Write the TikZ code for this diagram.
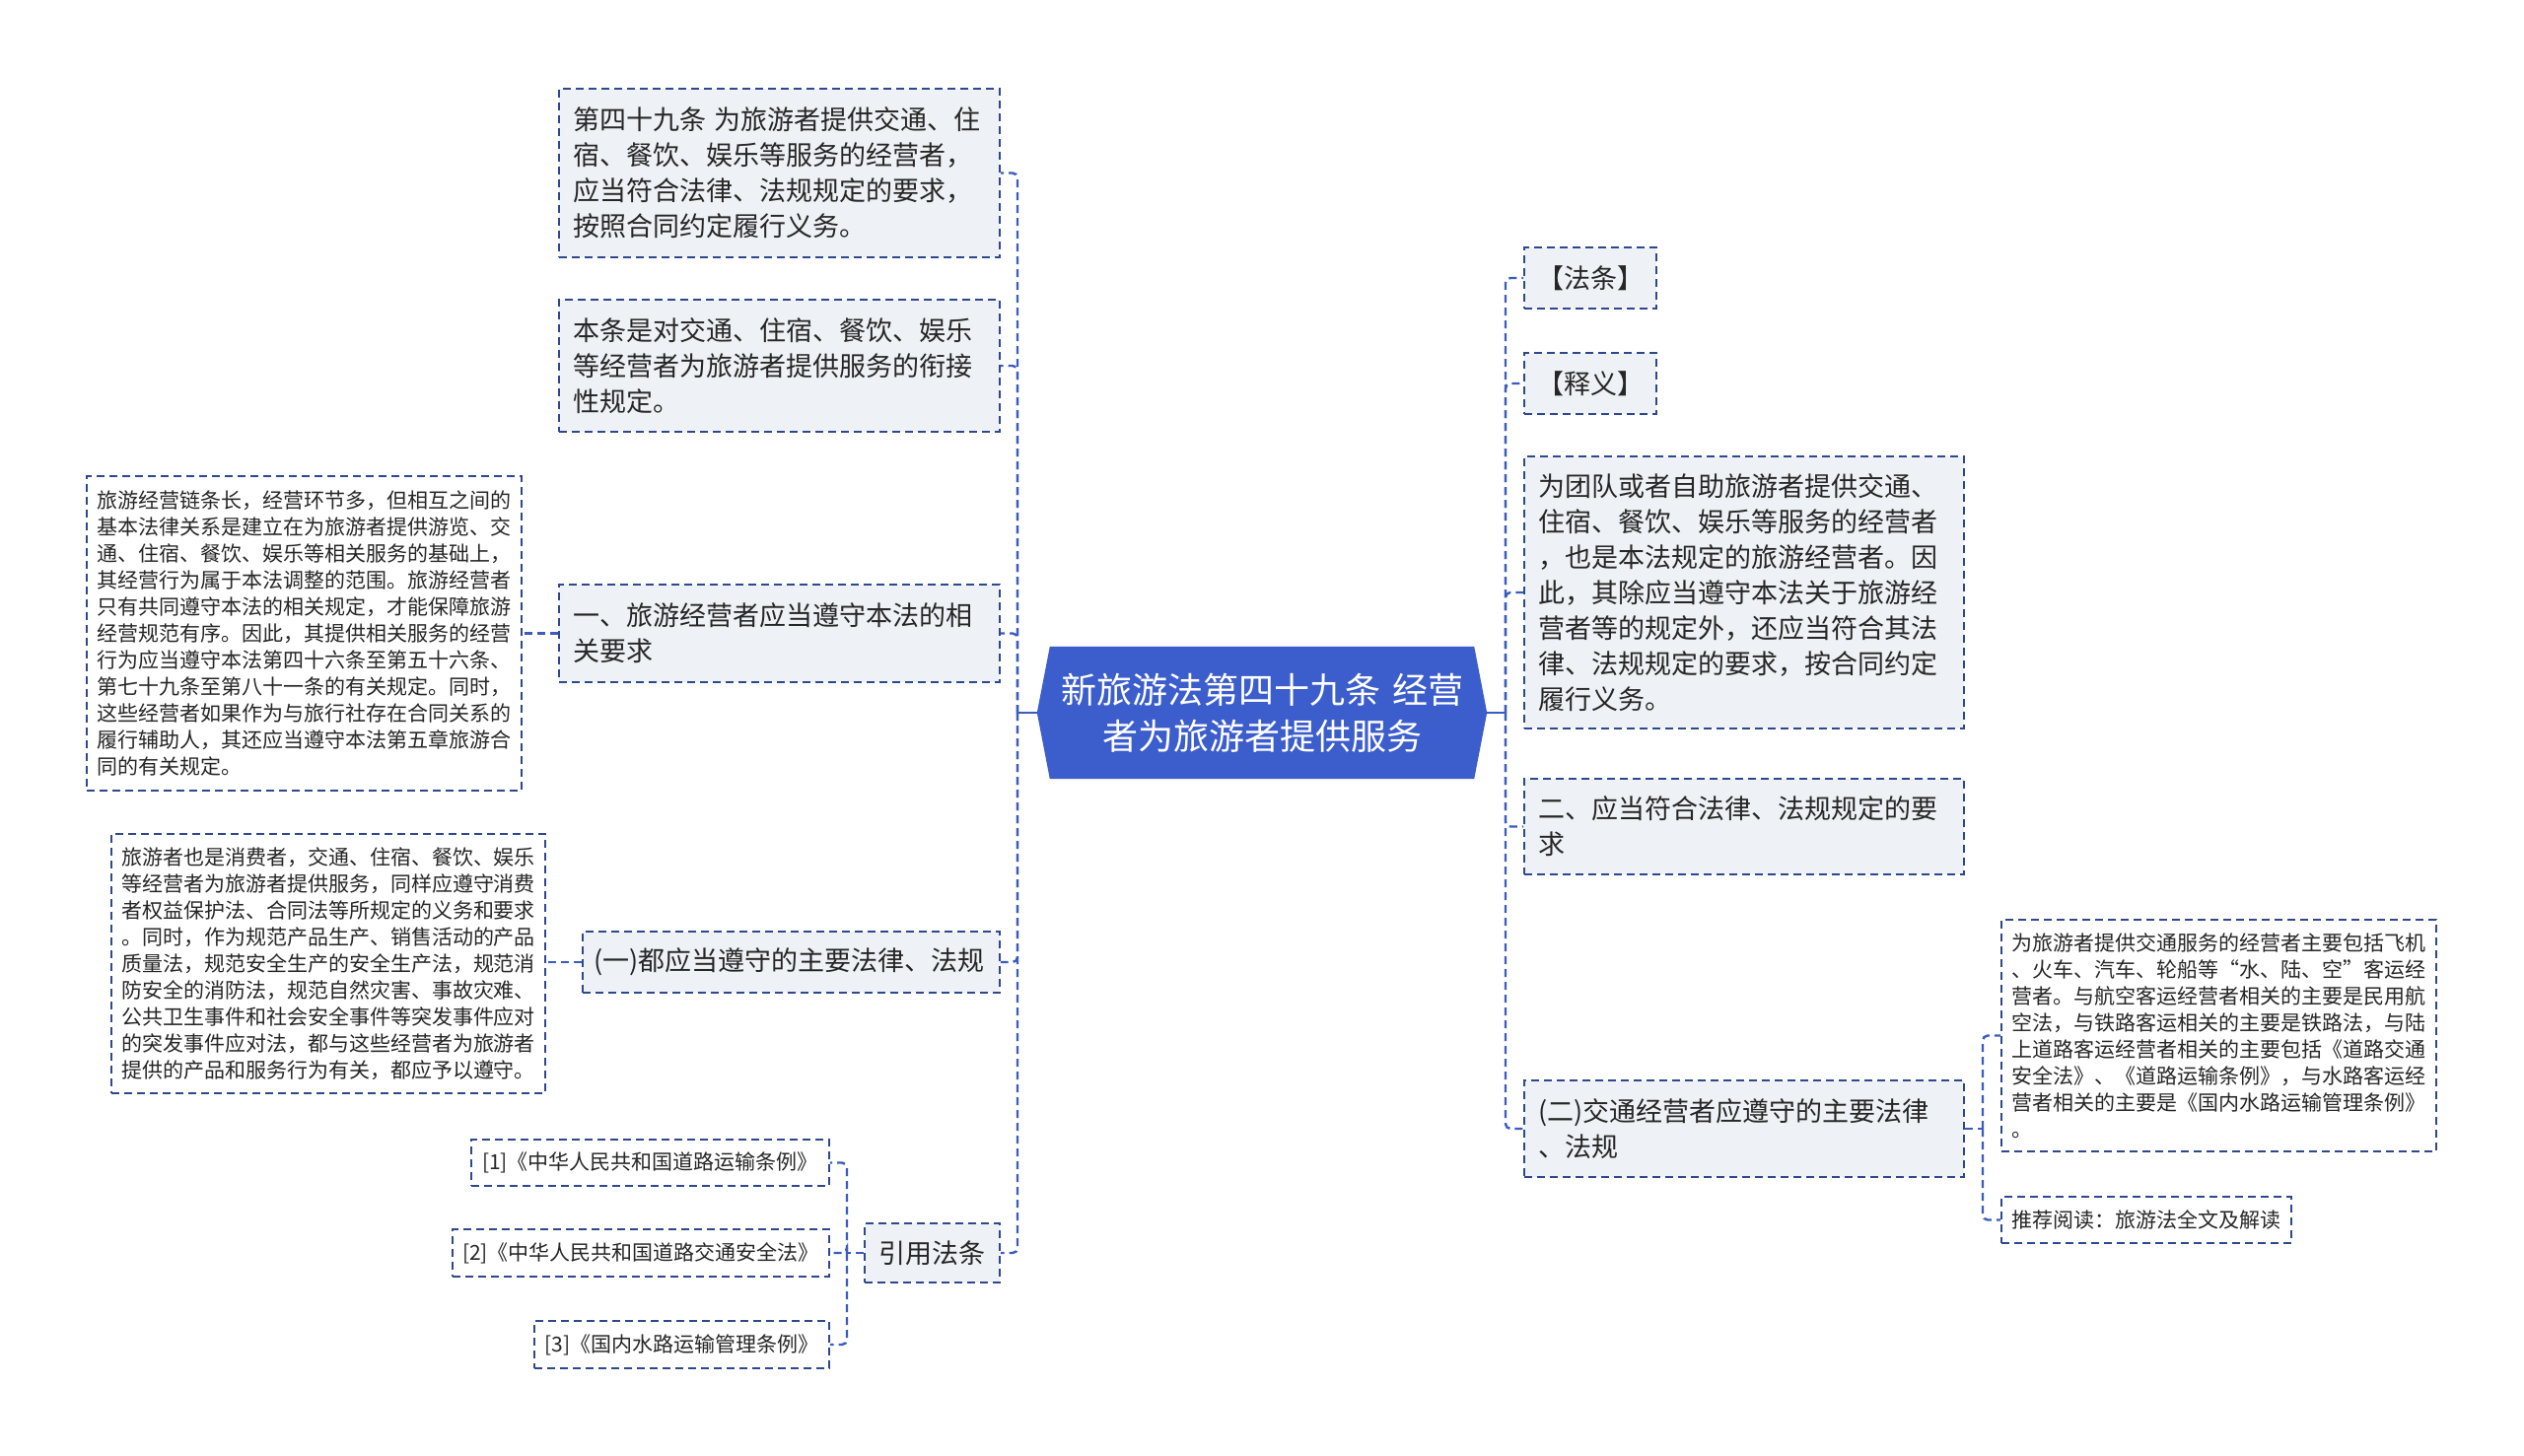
\documentclass[tikz,border=0pt]{standalone}
\usepackage{fontspec}
\setmainfont{Noto Sans CJK SC}
\usetikzlibrary{backgrounds}
\definecolor{bordc}{RGB}{45,72,140}
\definecolor{connc}{RGB}{58,92,190}
\definecolor{boxfill}{RGB}{238,241,245}
\definecolor{centfill}{RGB}{60,93,204}
\definecolor{txtc}{RGB}{38,38,38}
\newcommand{\fa}{\fontsize{27pt}{36pt}\selectfont}
\newcommand{\fb}{\fontsize{21pt}{27pt}\selectfont}
\newcommand{\fc}{\fontsize{36pt}{47pt}\selectfont}
\begin{document}
\begin{tikzpicture}[x=1pt,y=-1pt,
 dashbox/.style={draw=bordc, line width=1.6pt, dash pattern=on 8pt off 5pt, text=txtc, inner ysep=0pt, align=left},
 lvone/.style={dashbox, fill=boxfill, font=\fa},
 lvtwo/.style={dashbox, fill=white, font=\fb},
 conn/.style={draw=connc, line width=2.4pt, dash pattern=on 8pt off 5pt, rounded corners=5pt},
 stub/.style={draw=connc, line width=2.4pt}]

\begin{scope}[on background layer]
\fill[white] (0,0) rectangle (2560,1477);
\end{scope}
\useasboundingbox (0,0) rectangle (2560,1477);

% center
\node[font=\fc, text=white, align=center, text width=430pt, minimum width=456pt, minimum height=134pt, inner sep=0pt] (center) at (1280,723) {新旅游法第四十九条 经营\\者为旅游者提供服务};
\begin{scope}[on background layer]
\fill[centfill] (center.west) -- ([xshift=13pt]center.north west) -- ([xshift=-13pt]center.north east) -- (center.east) -- ([xshift=-13pt]center.south east) -- ([xshift=13pt]center.south west) -- cycle;
\end{scope}

% left level 1
\node[lvone, text width=419pt, inner xsep=14pt, minimum height=171pt] (A) at (790.5,175.5) {第四十九条 为旅游者提供交通、住\\宿、餐饮、娱乐等服务的经营者，\\应当符合法律、法规规定的要求，\\按照合同约定履行义务。};
\node[lvone, text width=419pt, inner xsep=14pt, minimum height=134pt] (B) at (790.5,371) {本条是对交通、住宿、餐饮、娱乐\\等经营者为旅游者提供服务的衔接\\性规定。};
\node[lvone, text width=419pt, inner xsep=14pt, minimum height=99pt] (C) at (790.5,642.5) {一、旅游经营者应当遵守本法的相\\关要求};
\node[lvone, text width=401pt, inner xsep=11pt, minimum height=62pt] (D) at (802.5,976) {(一)都应当遵守的主要法律、法规};
\node[lvone, text width=108pt, inner xsep=14.5pt, minimum height=60pt, align=center] (Ref) at (945.5,1271) {引用法条};

% left level 2
\node[lvtwo, text width=420pt, inner xsep=10.5pt, minimum height=319pt] (L1) at (308.5,642.5) {旅游经营链条长，经营环节多，但相互之间的\\基本法律关系是建立在为旅游者提供游览、交\\通、住宿、餐饮、娱乐等相关服务的基础上，\\其经营行为属于本法调整的范围。旅游经营者\\只有共同遵守本法的相关规定，才能保障旅游\\经营规范有序。因此，其提供相关服务的经营\\行为应当遵守本法第四十六条至第五十六条、\\第七十九条至第八十一条的有关规定。同时，\\这些经营者如果作为与旅行社存在合同关系的\\履行辅助人，其还应当遵守本法第五章旅游合\\同的有关规定。};
\node[lvtwo, text width=420pt, inner xsep=10pt, minimum height=263pt] (L2) at (333,977.5) {旅游者也是消费者，交通、住宿、餐饮、娱乐\\等经营者为旅游者提供服务，同样应遵守消费\\者权益保护法、合同法等所规定的义务和要求\\。同时，作为规范产品生产、销售活动的产品\\质量法，规范安全生产的安全生产法，规范消\\防安全的消防法，规范自然灾害、事故灾难、\\公共卫生事件和社会安全事件等突发事件应对\\的突发事件应对法，都与这些经营者为旅游者\\提供的产品和服务行为有关，都应予以遵守。};
\node[lvtwo, text width=343pt, inner xsep=10pt, minimum height=47pt, align=center] (R1) at (659.5,1179.5) {[1]《中华人民共和国道路运输条例》};
\node[lvtwo, text width=362pt, inner xsep=10pt, minimum height=48pt, align=center] (R2) at (650,1271) {[2]《中华人民共和国道路交通安全法》};
\node[lvtwo, text width=279pt, inner xsep=10pt, minimum height=48pt, align=center] (R3) at (691.5,1364) {[3]《国内水路运输管理条例》};

% right level 1
\node[lvone, text width=108pt, inner xsep=13pt, minimum height=62pt, align=center] (FT) at (1613,282) {【法条】};
\node[lvone, text width=108pt, inner xsep=13pt, minimum height=62pt, align=center] (SY) at (1613,389) {【释义】};
\node[lvone, text width=418pt, inner xsep=14pt, minimum height=276pt] (RB) at (1769,601) {为团队或者自助旅游者提供交通、\\住宿、餐饮、娱乐等服务的经营者\\，也是本法规定的旅游经营者。因\\此，其除应当遵守本法关于旅游经\\营者等的规定外，还应当符合其法\\律、法规规定的要求，按合同约定\\履行义务。};
\node[lvone, text width=418pt, inner xsep=14pt, minimum height=97pt] (E2) at (1769,838.5) {二、应当符合法律、法规规定的要\\求};
\node[lvone, text width=418pt, inner xsep=14pt, minimum height=98pt] (E3) at (1769,1145) {(二)交通经营者应遵守的主要法律\\、法规};

% right level 2
\node[lvtwo, text width=420pt, inner xsep=10.5pt, minimum height=235pt] (FR) at (2250.5,1050.5) {为旅游者提供交通服务的经营者主要包括飞机\\、火车、汽车、轮船等“水、陆、空”客运经\\营者。与航空客运经营者相关的主要是民用航\\空法，与铁路客运相关的主要是铁路法，与陆\\上道路客运经营者相关的主要包括《道路交通\\安全法》、《道路运输条例》，与水路客运经\\营者相关的主要是《国内水路运输管理条例》\\。};
\node[lvtwo, text width=273pt, inner xsep=10.5pt, minimum height=47pt] (TJ) at (2177,1237.5) {推荐阅读：旅游法全文及解读};

% trunk points
\coordinate (LT) at (1032,723);
\coordinate (RT) at (1527,723);
\coordinate (QT) at (859,1271);
\coordinate (ET) at (2011,1145);

% connectors
\draw[stub] (center.west) -- (LT);
\foreach \n in {A,B,C,D,Ref} \draw[conn] (LT) |- (\n.east);
\draw[stub] (center.east) -- (RT);
\foreach \n in {FT,SY,RB,E2,E3} \draw[conn] (RT) |- (\n.west);
\draw[conn] (C.west) -- (C.west -| L1.east);
\draw[conn] (D.west) -- (D.west -| L2.east);
\draw[conn] (Ref.west) -- (QT);
\foreach \n in {R1,R2,R3} \draw[conn] (QT) |- (\n.east);
\draw[conn] (E3.east) -- (ET);
\foreach \n in {FR,TJ} \draw[conn] (ET) |- (\n.west);
\end{tikzpicture}
\end{document}
